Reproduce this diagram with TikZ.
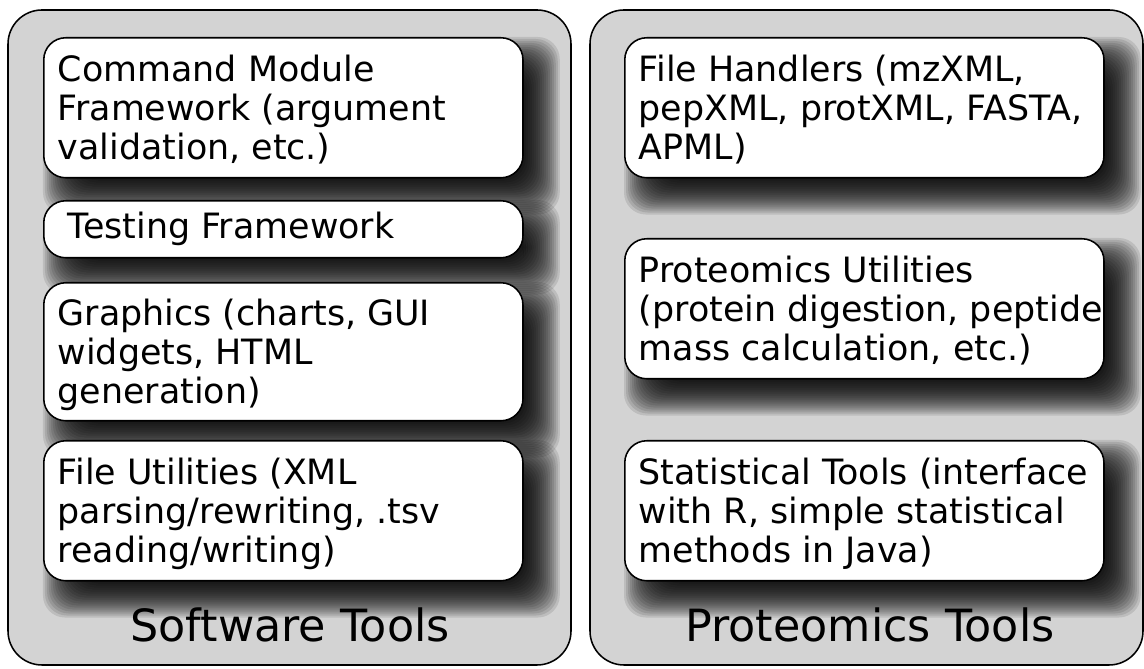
\documentclass[tikz,border=0pt]{standalone}
\usepackage{fontspec}
\setmainfont{DejaVu Sans}
\usetikzlibrary{calc,positioning}
\pgfdeclarelayer{panels}
\pgfdeclarelayer{shades}
\pgfsetlayers{panels,shades,main}
\definecolor{panelgray}{RGB}{211,211,211}
\tikzset{
  toolbox/.style={draw=black, line width=1.1pt, fill=white, rounded corners=0.55cm,
    text width=11.28cm, inner xsep=0.35cm, align=flush left, anchor=north west,
    font=\fontsize{24.8}{27.7}\selectfont},
  panel/.style={draw=black, line width=1.1pt, fill=panelgray, rounded corners=0.85cm},
  paneltitle/.style={font=\fontsize{31.6}{35}\selectfont, anchor=base}
}
\newcommand{\boxlines}[1]{%
  \raisebox{-0.13cm}[\height][\depth]{\begin{tabular}{@{}l@{}}#1\end{tabular}}}
\newcommand{\boxshade}[1]{%
  \foreach \r in {-0.45,-0.4,...,0.46}{%
    \fill[black, opacity=0.1, rounded corners=0.55cm]
      ($(#1.north west)+(0.45-\r,-0.45+\r)$) rectangle ($(#1.south east)+(0.45+\r,-0.45-\r)$);
  }}

\begin{document}
\begin{tikzpicture}
  \useasboundingbox (0,0) rectangle (28.6,16.725);

  \node[toolbox, minimum height=3.5cm]  (cmdmod) at (1.075,15.8)
    {\boxlines{Command Module\\Framework (argument\\validation, etc.)}};
  \node[toolbox, minimum height=1.425cm] (testing) at (1.075,11.725)
    {\hspace*{0.25cm}Testing Framework};
  \node[toolbox, minimum height=3.45cm] (graphics) at (1.075,9.675)
    {\boxlines{Graphics (charts, GUI\\widgets, HTML\\generation)}};
  \node[toolbox, minimum height=3.5cm]  (fileutil) at (1.075,5.725)
    {\boxlines{File Utilities (XML\\parsing/rewriting, .tsv\\reading/writing)}};

  \node[toolbox, minimum height=3.5cm]  (filehand) at (15.6,15.8)
    {\boxlines{File Handlers (mzXML,\\pepXML, protXML, FASTA,\\APML)}};
  \node[toolbox, minimum height=3.5cm]  (protutil) at (15.6,10.775)
    {\boxlines{Proteomics Utilities\\(protein digestion, peptide\\mass calculation, etc.)}};
  \node[toolbox, minimum height=3.5cm]  (stattool) at (15.6,5.725)
    {\boxlines{Statistical Tools (interface\\with R, simple statistical\\methods in Java)}};

  \node[paneltitle] (software) at (7.25,0.675) {Software Tools};
  \node[paneltitle] (proteomics) at (21.75,0.675) {Proteomics Tools};

  \begin{pgfonlayer}{panels}
    \fill[white] (0,0) rectangle (28.6,16.725);
    \draw[panel] (0.2,0.1) rectangle (14.275,16.475);
    \draw[panel] (14.75,0.1) rectangle (28.575,16.475);
  \end{pgfonlayer}

  \begin{pgfonlayer}{shades}
    \boxshade{cmdmod}
    \boxshade{testing}
    \boxshade{graphics}
    \boxshade{fileutil}
    \boxshade{filehand}
    \boxshade{protutil}
    \boxshade{stattool}
  \end{pgfonlayer}
\end{tikzpicture}
\end{document}
